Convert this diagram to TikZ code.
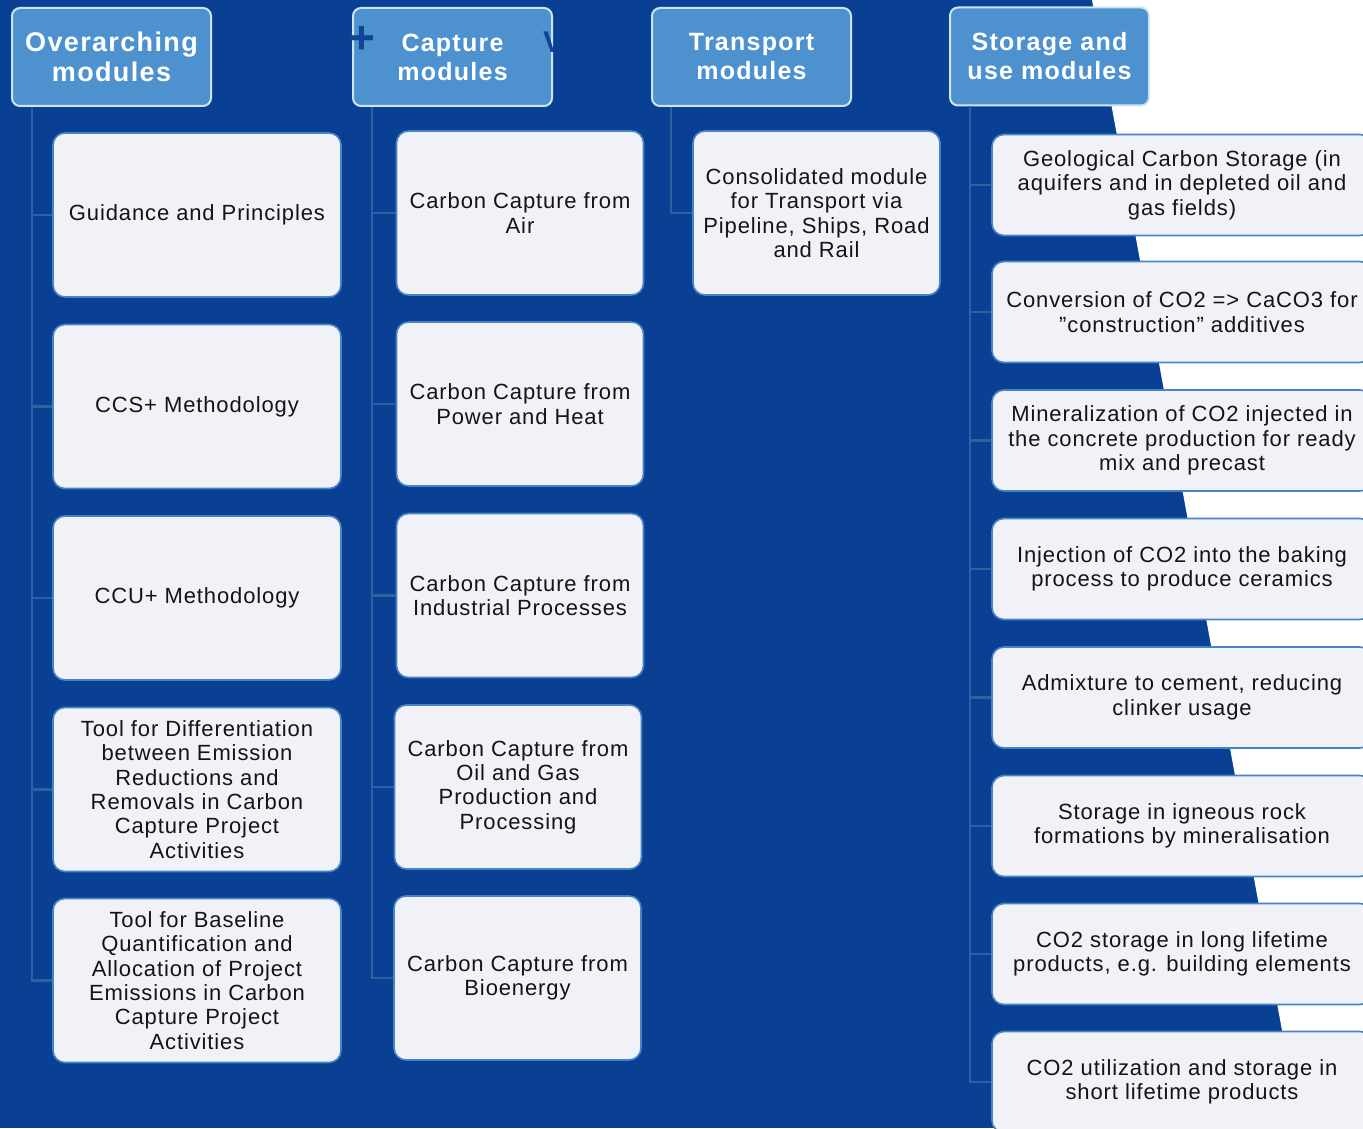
\documentclass[tikz,border=0pt]{standalone}
\usepackage{fontspec}
\setmainfont{Liberation Sans}
\newfontfamily\boxfont{Liberation Sans}[LetterSpace=4]
\newfontfamily\headfont{Liberation Sans}[LetterSpace=5]
\usepackage{tikz}
\usetikzlibrary{positioning}

\definecolor{bgblue}{RGB}{10,64,148}
\definecolor{headblue}{RGB}{78,145,207}
\definecolor{headrim}{RGB}{205,228,242}
\definecolor{boxgrey}{RGB}{240,242,247}
\definecolor{boxrim}{RGB}{72,132,196}
\definecolor{boxtext}{RGB}{20,20,20}
\definecolor{linkblue}{RGB}{40,100,160}
\definecolor{markblue}{RGB}{18,68,150}

\begin{document}
\begin{tikzpicture}[
    x=0.5pt, y=-0.5pt,
    head/.style={rectangle, draw=headrim, line width=1pt, fill=headblue, rounded corners=4pt, minimum width=99.5pt, minimum height=49pt, inner sep=0pt, align=center, text=white, font=\headfont\bfseries\fontsize{12.5}{14.5}\selectfont},
    module/.style={rectangle, draw=boxrim, line width=0.8pt, fill=boxgrey, rounded corners=6pt, inner sep=0pt, align=center, text=boxtext, font=\boxfont\fontsize{11}{12.2}\selectfont},
    ovbox/.style={module, minimum width=144pt, minimum height=82pt},
    capbox/.style={module, minimum width=123.5pt, minimum height=82pt},
    usebox/.style={module, minimum width=190pt, minimum height=50.5pt},
    link/.style={draw=linkblue, line width=1.3pt}
]
    \clip (0,0) rectangle (1363,1128);
    % Background
    \fill[bgblue] (0,0) rectangle (1363,1128);
    \fill[white] (1092,0) -- (1363,0) -- (1363,1128) -- (1300,1128) -- cycle;

    % Overarching modules
    \node[head, font=\headfont\bfseries\fontsize{13.5}{15}\selectfont] (hov) at (111.5,57) {Overarching\\modules};
    \node[ovbox] (ov1) at (197,215) {Guidance and Principles};
    \node[ovbox] (ov2) at (197,406.5) {CCS+ Methodology};
    \node[ovbox] (ov3) at (197,598) {CCU+ Methodology};
    \node[ovbox] (ov4) at (197,789.5) {Tool for Differentiation\\between Emission\\Reductions and\\Removals in Carbon\\Capture Project\\Activities};
    \node[ovbox] (ov5) at (197,980.5) {Tool for Baseline\\Quantification and\\Allocation of Project\\Emissions in Carbon\\Capture Project\\Activities};

    % Capture modules
    \node[head] (hcap) at (452.5,57) {Capture\\modules};
    \node[capbox] (cap1) at (520,213) {Carbon Capture from\\Air};
    \node[capbox] (cap2) at (520,404) {Carbon Capture from\\Power and Heat};
    \node[capbox] (cap3) at (520,595.5) {Carbon Capture from\\Industrial Processes};
    \node[capbox] (cap4) at (518,787) {Carbon Capture from\\Oil and Gas\\Production and\\Processing};
    \node[capbox] (cap5) at (517.5,978) {Carbon Capture from\\Bioenergy};
    \node[inner sep=0pt, text=markblue, font=\bfseries\fontsize{23}{23}\selectfont] (plusmark) at (362,40) {+};
    \begin{scope}
        \clip (hcap.north west) rectangle (hcap.south east);
        \node[inner sep=0pt, text=markblue, font=\bfseries\fontsize{15}{15}\selectfont] (vmark) at (553,42) {V};
    \end{scope}

    % Transport modules
    \node[head] (htr) at (751.5,57) {Transport\\modules};
    \node[capbox] (tr1) at (816.5,213) {Consolidated module\\for Transport via\\Pipeline, Ships, Road\\and Rail};

    % Storage and use modules
    \node[head] (huse) at (1049.5,56.5) {Storage and\\use modules};
    \node[usebox] (use1) at (1182,185) {Geological Carbon Storage (in\\aquifers and in depleted oil and\\gas fields)};
    \node[usebox] (use2) at (1182,312) {Conversion of CO2 => CaCO3 for\\”construction” additives};
    \node[usebox] (use3) at (1182,440.5) {Mineralization of CO2 injected in\\the concrete production for ready\\mix and precast};
    \node[usebox] (use4) at (1182,569) {Injection of CO2 into the baking\\process to produce ceramics};
    \node[usebox] (use5) at (1182,697.5) {Admixture to cement, reducing\\clinker usage};
    \node[usebox] (use6) at (1182,826) {Storage in igneous rock\\formations by mineralisation};
    \node[usebox] (use7) at (1182,954) {CO2 storage in long lifetime\\products, e.g. building elements};
    \node[usebox] (use8) at (1182,1082) {CO2 utilization and storage in\\short lifetime products};

    % Tree lines
    \coordinate (ovtop) at ([xshift=10.5pt]hov.south west);
    \coordinate (captop) at ([xshift=10pt]hcap.south west);
    \coordinate (trtop) at ([xshift=10pt]htr.south west);
    \coordinate (usetop) at ([xshift=10.5pt]huse.south west);
    \foreach \i in {1,...,5} {
        \draw[link] (ovtop) |- (ov\i.west);
        \draw[link] (captop) |- (cap\i.west);
    }
    \draw[link] (trtop) |- (tr1.west);
    \foreach \i in {1,...,8}
        \draw[link] (usetop) |- (use\i.west);
\end{tikzpicture}
\end{document}
